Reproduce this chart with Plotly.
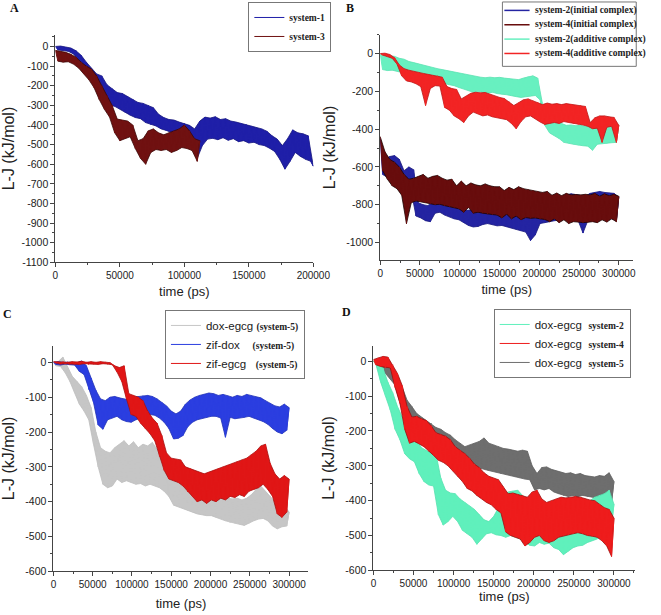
import plotly.graph_objects as go

# ---------------- DATA ----------------
# Each series alternates between the upper and lower edge of its noisy band,
# read from the picture at a fixed sampling step.
T_A = list(range(0, 200001, 2000))
T_A3 = list(range(0, 112001, 2000))
T_300 = list(range(0, 300001, 3000))

A_SYS1 = [0, -18, 2, -20, -3, -25, -8, -38, -22, -70,
          -45, -105, -80, -148, -110, -195, -140, -228, -150, -258,
          -195, -300, -215, -305, -235, -318, -240, -335, -255, -350,
          -268, -362, -285, -368, -290, -388, -300, -398, -312, -405,
          -345, -420, -362, -428, -372, -438, -375, -448, -385, -455,
          -392, -462, -402, -485, -420, -570, -380, -505, -360, -472,
          -365, -468, -358, -475, -372, -465, -368, -478, -380, -470,
          -385, -485, -392, -480, -398, -492, -405, -488, -415, -500,
          -420, -505, -432, -518, -455, -535, -472, -575, -505, -625,
          -470, -585, -425, -540, -440, -560, -445, -575, -455, -585,
          -610]
A_SYS3 = [-20, -75, -25, -80, -30, -78, -40, -90, -55, -110,
          -80, -140, -100, -170, -115, -210, -150, -270, -200, -320,
          -250, -360, -300, -440, -370, -480, -375, -470, -380, -460,
          -400, -520, -480, -570, -470, -600, -430, -540, -420, -525,
          -440, -530, -450, -525, -440, -540, -430, -530, -420, -515,
          -400, -520, -430, -530, -470, -585, -480]

B_S2_INIT = [-450, -640, -560, -655, -545, -680, -540, -700, -560, -725,
             -620, -850, -600, -730, -615, -860, -790, -870, -800, -885,
             -805, -890, -780, -845, -770, -840, -775, -855, -785, -865,
             -800, -875, -808, -880, -812, -895, -830, -910, -828, -918,
             -835, -915, -820, -905, -812, -900, -815, -905, -818, -912,
             -820, -910, -825, -918, -822, -922, -828, -930, -830, -938,
             -835, -945, -850, -990, -860, -960, -820, -900, -810, -895,
             -800, -890, -795, -885, -780, -880, -765, -878, -750, -880,
             -742, -875, -745, -885, -750, -950, -755, -885, -740, -878,
             -735, -870, -730, -872, -735, -868, -738, -875, -740, -880,
             -760]
B_S4_INIT = [-440, -620, -520, -665, -560, -700, -575, -715, -600, -750,
             -640, -900, -665, -790, -660, -780, -650, -785, -640, -790,
             -660, -795, -650, -800, -645, -798, -660, -805, -670, -810,
             -665, -815, -700, -822, -675, -840, -700, -815, -685, -845,
             -695, -840, -700, -845, -690, -850, -700, -852, -705, -855,
             -705, -870, -725, -850, -708, -875, -720, -860, -705, -880,
             -715, -868, -720, -872, -725, -870, -730, -875, -735, -878,
             -730, -890, -750, -875, -738, -895, -752, -880, -740, -900,
             -748, -890, -746, -892, -748, -895, -745, -893, -748, -890,
             -740, -895, -755, -880, -742, -892, -752, -875, -745, -890,
             -755]
B_S2_ADD = [-5, -85, -10, -90, -12, -88, -15, -92, -25, -100,
            -30, -112, -42, -120, -48, -125, -55, -130, -62, -135,
            -68, -140, -72, -148, -80, -152, -85, -158, -90, -165,
            -95, -170, -100, -180, -105, -188, -112, -195, -118, -205,
            -122, -200, -125, -205, -128, -210, -125, -205, -128, -212,
            -126, -215, -130, -218, -132, -222, -135, -228, -138, -232,
            -130, -228, -122, -225, -118, -222, -130, -245, -265, -380,
            -320, -420, -345, -435, -355, -450, -370, -470, -380, -475,
            -378, -480, -382, -485, -380, -488, -385, -490, -380, -512,
            -375, -480, -368, -478, -365, -475, -368, -472, -365, -470,
            -380]
B_S4_ADD = [0, -8, 2, -15, -5, -25, -22, -55, -60, -118,
            -80, -145, -88, -150, -95, -160, -100, -175, -105, -275,
            -110, -185, -115, -170, -118, -172, -125, -285, -175, -300,
            -185, -330, -190, -345, -240, -365, -225, -330, -210, -310,
            -205, -320, -208, -330, -206, -325, -215, -335, -225, -340,
            -232, -345, -238, -350, -255, -370, -275, -398, -260, -360,
            -245, -335, -240, -330, -250, -345, -258, -362, -270, -375,
            -262, -370, -268, -365, -265, -370, -270, -360, -265, -365,
            -268, -370, -272, -375, -275, -378, -280, -385, -365, -398,
            -340, -395, -330, -470, -330, -390, -335, -385, -338, -470,
            -380]

C_DOX_EGCG = [0, -10, 2, -12, 15, -30, -15, -55, -40, -88,
              -55, -120, -70, -140, -95, -165, -130, -235, -200, -300,
              -245, -350, -255, -360, -260, -355, -245, -335, -235, -345,
              -225, -340, -240, -345, -228, -350, -245, -348, -235, -355,
              -240, -350, -230, -355, -250, -360, -262, -370, -320, -385,
              -330, -410, -335, -415, -340, -420, -345, -425, -350, -430,
              -360, -435, -365, -438, -370, -440, -375, -440, -382, -445,
              -385, -450, -388, -455, -390, -460, -392, -462, -390, -465,
              -395, -468, -390, -462, -380, -455, -365, -450, -355, -448,
              -370, -455, -385, -470, -400, -478, -405, -472, -410, -470,
              -430]
C_ZIF_DOX = [0, -6, 2, -8, 0, -5, 1, -7, 0, -8,
             -2, -26, 4, -35, -10, -78, -45, -115, -80, -180,
             -105, -192, -110, -165, -100, -160, -98, -155, -102, -165,
             -105, -170, -108, -172, -100, -165, -98, -160, -96, -158,
             -95, -150, -98, -152, -105, -160, -115, -172, -125, -190,
             -140, -220, -148, -218, -140, -210, -120, -185, -108, -172,
             -100, -165, -95, -160, -92, -158, -88, -155, -90, -155,
             -95, -160, -92, -215, -96, -158, -100, -162, -95, -160,
             -98, -158, -92, -155, -96, -160, -100, -165, -102, -170,
             -110, -178, -118, -190, -125, -200, -128, -205, -120, -195,
             -130]
C_ZIF_EGCG = [2, -2, 1, -5, 2, -4, 0, -6, 2, -5,
              1, -6, 3, -4, 0, -6, 2, -5, 0, -6,
              2, -4, 0, -5, -1, -7, -10, -28, -15, -55,
              -10, -105, -90, -150, -95, -155, -100, -175, -110, -190,
              -140, -205, -160, -225, -175, -270, -210, -310, -260, -335,
              -275, -340, -278, -345, -280, -355, -300, -372, -305, -385,
              -312, -400, -315, -395, -320, -405, -315, -395, -310, -400,
              -305, -390, -300, -395, -295, -385, -290, -388, -285, -380,
              -280, -385, -275, -370, -265, -365, -255, -360, -240, -350,
              -235, -365, -290, -385, -320, -435, -335, -445, -325, -430,
              -335]

D_S2 = [0, -8, -5, -60, -20, -100, -60, -140, -90, -195,
        -130, -225, -160, -265, -185, -280, -205, -288, -225, -322,
        -248, -345, -256, -355, -262, -358, -265, -440, -335, -470,
        -370, -460, -378, -445, -380, -460, -395, -485, -405, -495,
        -415, -505, -425, -525, -440, -510, -455, -495, -460, -492,
        -445, -498, -420, -500, -385, -505, -375, -500, -372, -505,
        -370, -510, -385, -520, -395, -528, -390, -530, -400, -520,
        -410, -525, -418, -522, -420, -535, -425, -540, -428, -555,
        -430, -545, -425, -535, -420, -530, -415, -528, -410, -520,
        -400, -515, -390, -510, -385, -500, -380, -490, -370, -470,
        -410]
D_S4 = [5, -10, 10, -15, 14, -18, 12, -19, -10, -75,
        -35, -120, -70, -195, -130, -235, -160, -230, -158, -237,
        -165, -245, -170, -258, -185, -270, -205, -284, -210, -290,
        -215, -300, -225, -315, -245, -330, -255, -345, -265, -365,
        -278, -372, -295, -385, -305, -395, -320, -405, -330, -412,
        -335, -425, -340, -435, -360, -490, -380, -500, -378, -505,
        -382, -510, -385, -530, -390, -520, -375, -505, -370, -500,
        -395, -515, -405, -520, -400, -515, -395, -505, -390, -500,
        -392, -498, -390, -495, -388, -492, -390, -495, -395, -500,
        -398, -502, -400, -505, -410, -515, -420, -530, -425, -560,
        -450]
D_S5 = [0, -8, 0, -10, -2, -35, -12, -50, -28, -68,
        -45, -120, -75, -160, -112, -180, -130, -195, -150, -215,
        -160, -220, -170, -235, -178, -245, -190, -256, -195, -262,
        -205, -270, -212, -284, -225, -290, -235, -300, -245, -312,
        -240, -305, -236, -310, -230, -308, -220, -312, -235, -315,
        -240, -318, -245, -322, -250, -325, -252, -328, -255, -332,
        -258, -335, -255, -338, -258, -340, -300, -369, -322, -365,
        -305, -369, -303, -365, -310, -375, -315, -380, -318, -385,
        -322, -388, -320, -385, -325, -388, -322, -385, -328, -388,
        -330, -390, -332, -392, -328, -395, -330, -400, -320, -405,
        -345]

YT_A = [0, -100, -200, -300, -400, -500, -600, -700, -800, -900, -1000, -1100]
YT_B = [0, -200, -400, -600, -800, -1000]
YT_CD = [0, -100, -200, -300, -400, -500, -600]
XT_A = [0, 50000, 100000, 150000, 200000]
XT_300 = [0, 50000, 100000, 150000, 200000, 250000, 300000]

# ---------------- LAYOUT ----------------
W, H = 661, 615
SANS = "Liberation Sans"
SERIF = "Liberation Serif"

def px_x(a, b):
    return [a / W, b / W]

def px_y(top, bottom):
    return [1 - bottom / H, 1 - top / H]

fig = go.Figure()

def add(t, vals, name, color, edge, xa, ya, legend=None, rank=1):
    n = min(len(t), len(vals))
    tt, vv = t[:n], vals[:n]
    # band outline: upper samples forward, lower samples backward
    bx = tt[0::2] + tt[1::2][::-1]
    by = vv[0::2] + vv[1::2][::-1]
    fig.add_trace(go.Scatter(x=bx, y=by, mode="lines", fill="toself", fillcolor=color,
                             line=dict(color=edge, width=0.8), xaxis=xa, yaxis=ya,
                             showlegend=False, hoverinfo="skip"))
    fig.add_trace(go.Scatter(x=tt, y=vv, mode="lines", name=name,
                             line=dict(color=color, width=1), xaxis=xa, yaxis=ya,
                             legend=legend or "legend", legendrank=rank,
                             showlegend=legend is not None, hoverinfo="skip"))

# Panel A
add(T_A, A_SYS1, "<b>system-1</b>", "#1f1fa8", "#14147a", "x", "y", "legend", 1)
add(T_A3, A_SYS3, "<b>system-3</b>", "#701111", "#3a0606", "x", "y", "legend", 2)
# Panel B (legend drawn as a boxed key below)
B_NAMES = ["system-2(initial complex)", "system-4(initial complex)",
           "system-2(additive complex)", "system-4(additive complex)"]
B_COLORS = ["#2424a2", "#680d0d", "#68f0c0", "#f22424"]
B_EDGES = ["#181878", "#1a0303", "#5ce0b0", "#b81818"]
for vals, col, edg in zip([B_S2_INIT, B_S4_INIT, B_S2_ADD, B_S4_ADD], B_COLORS, B_EDGES):
    add(T_300, vals, None, col, edg, "x2", "y2")
# Panel C
tag = '<span style="font-family:Liberation Serif;font-weight:bold;font-size:9.5px">(system-5)</span>'
add(T_300, C_DOX_EGCG, "dox-egcg" + "&nbsp;" * 1 + tag, "#c6c6c6", "#bdbdbd", "x3", "y3", "legend3", 1)
add(T_300, C_ZIF_DOX, "zif-dox" + "&nbsp;" * 4 + tag, "#2b3ee0", "#2030b0", "x3", "y3", "legend3", 2)
add(T_300, C_ZIF_EGCG, "zif-egcg" + "&nbsp;" * 3 + tag, "#e01616", "#a51010", "x3", "y3", "legend3", 3)
# Panel D (gray drawn first, legend order aqua, red, gray)
def dtag(s):
    return ('&nbsp;&nbsp;<span style="font-family:Liberation Serif;font-weight:bold;'
            'font-size:9.5px">' + s + '</span>')
add(T_300, D_S5, "dox-egcg" + dtag("system-5"), "#6e6e6e", "#5e5e5e", "x4", "y4", "legend4", 3)
add(T_300, D_S2, "dox-egcg" + dtag("system-2"), "#60f0bc", "#55e0ae", "x4", "y4", "legend4", 1)
add(T_300, D_S4, "dox-egcg" + dtag("system-4"), "#ee1c1c", "#9a1010", "x4", "y4", "legend4", 2)

def base_axis(tsize):
    return dict(showline=True, linecolor="#444", linewidth=1, ticks="outside",
                ticklen=4, tickcolor="#444", showgrid=False, zeroline=False,
                tickfont=dict(family=SANS, size=tsize, color="#222"))

def xax(domain, rng, anchor, tickvals, standoff):
    return dict(domain=domain, range=rng, anchor=anchor, tickvals=tickvals,
                ticktext=[str(v) for v in tickvals],
                minor=dict(ticks="outside", ticklen=2, tickcolor="#444", dtick=25000, tick0=0),
                title=dict(text="time (ps)", standoff=standoff,
                           font=dict(family=SANS, size=13, color="#222")), **base_axis(10))

def yax(domain, rng, anchor, tickvals, mdt):
    return dict(domain=domain, range=rng, anchor=anchor, tickvals=tickvals,
                ticktext=[str(v) for v in tickvals],
                minor=dict(ticks="outside", ticklen=2, tickcolor="#444", dtick=mdt, tick0=0),
                title=dict(text="L-J (kJ/mol)", standoff=6,
                           font=dict(family=SANS, size=16, color="#222")), **base_axis(10.5))

leg_common = dict(xref="paper", yref="paper", xanchor="left", yanchor="top",
                  bgcolor="white", bordercolor="#777", borderwidth=1,
                  itemwidth=30, tracegroupgap=0)

fig.update_layout(
    width=W, height=H, margin=dict(l=0, r=0, t=0, b=0),
    paper_bgcolor="white", plot_bgcolor="white", showlegend=True,
    xaxis=xax(px_x(54, 320), [0, 200000], "y", XT_A, 6),
    yaxis=yax(px_y(35, 265), [-1100, 60], "x", YT_A, 50),
    xaxis2=xax(px_x(389, 650), [0, 318300], "y2", XT_300, 6),
    yaxis2=yax(px_y(35, 263), [-1095, 100], "x2", YT_B, 100),
    xaxis3=xax(px_x(52, 315), [0, 324700], "y3", XT_300, 9),
    yaxis3=yax(px_y(349, 577), [-600, 48], "x3", YT_CD, 50),
    xaxis4=xax(px_x(382, 652), [0, 326600], "y4", XT_300, 2),
    yaxis4=yax(px_y(349, 576), [-600, 45], "x4", YT_CD, 50),
    legend=dict(x=253 / W, y=1 - 2 / H, font=dict(family=SERIF, size=9.5, color="#222"), **leg_common),
    legend3=dict(x=167 / W, y=1 - 313 / H, font=dict(family=SANS, size=11.5, color="#222"), **leg_common),
    legend4=dict(x=506 / W, y=1 - 312 / H, font=dict(family=SANS, size=11.5, color="#222"), **leg_common),
)

# Panel B key (compact boxed legend)
bx0, bx1, by0, by1 = 515, 653, 2, 67
fig.add_shape(type="rect", xref="paper", yref="paper", x0=bx0 / W, x1=bx1 / W,
              y0=1 - by1 / H, y1=1 - by0 / H, line=dict(color="#777", width=1),
              fillcolor="white", layer="above")
for i, (nm, col) in enumerate(zip(B_NAMES, B_COLORS)):
    yy = 1 - (10.5 + 14.5 * i) / H
    fig.add_shape(type="line", xref="paper", yref="paper", x0=517 / W, x1=543 / W,
                  y0=yy, y1=yy, line=dict(color=col, width=1.5), layer="above")
    fig.add_annotation(text="<b>" + nm + "</b>", x=547 / W, y=yy, xref="paper", yref="paper",
                       showarrow=False, xanchor="left", yanchor="middle",
                       font=dict(family=SERIF, size=9.5, color="#222"))

for letter, xp, yp in [("A", 12, 8), ("B", 358, 8), ("C", 5, 317), ("D", 354, 315)]:
    fig.add_annotation(text="<b>" + letter + "</b>", x=xp / W, y=1 - yp / H, xref="paper",
                       yref="paper", showarrow=False, xanchor="center", yanchor="middle",
                       font=dict(family=SERIF, size=12, color="#111"))

fig.write_html("out.html")
